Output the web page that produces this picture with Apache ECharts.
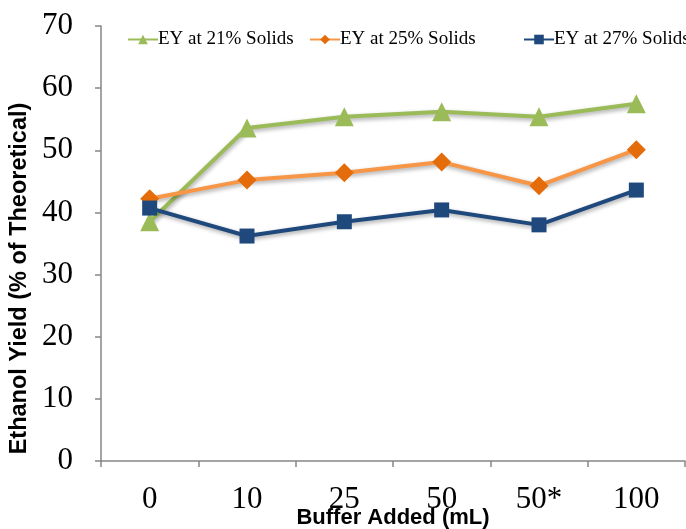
<!DOCTYPE html>
<html><head><meta charset="utf-8">
<script src="https://cdn.jsdelivr.net/npm/echarts@6/dist/echarts.min.js"></script>
<style>html,body{margin:0;padding:0;background:#fff}#c{width:686px;height:529px}</style>
</head><body><div id="c"></div>
<script>
const categories = ['0', '10', '25', '50', '50*', '100'];
const ey21 = [38.5, 53.6, 55.4, 56.2, 55.4, 57.5];
const ey25 = [42.2, 45.2, 46.4, 48.1, 44.3, 50.1];
const ey27 = [40.7, 36.2, 38.5, 40.4, 38.0, 43.6];
const seriesNames = ['EY at 21% Solids', 'EY at 25% Solids', 'EY at 27% Solids'];

const chart = echarts.init(document.getElementById('c'));
const serif = 'Liberation Serif';
const shadow = {shadowColor: 'rgba(0,0,0,0.35)', shadowBlur: 4, shadowOffsetX: 1, shadowOffsetY: 2};
function legend(name, left) {
  return {data: [name], left: left, top: 25, itemWidth: 30, itemHeight: 12, itemGap: 0,
    textStyle: {fontFamily: serif, fontSize: 19, color: '#000', padding: [0,0,0,-5]}};
}
chart.setOption({
  animation: false,
  legend: [legend(seriesNames[0], 122), legend(seriesNames[1], 304), legend(seriesNames[2], 518)],
  grid: {left: 101, right: 1, top: 26, bottom: 68, containLabel: false, outerBoundsMode: 'none'},
  xAxis: {
    type: 'category', data: categories, boundaryGap: true,
    axisLine: {lineStyle: {color: '#868686', width: 1.5}},
    axisTick: {show: true, length: 6, lineStyle: {color: '#868686', width: 1.5}},
    axisLabel: {fontFamily: serif, fontSize: 31, color: '#000', margin: 23},
    name: 'Buffer Added (mL)', nameLocation: 'middle', nameGap: 46, nameMoveOverlap: false,
    nameTextStyle: {fontFamily: 'Liberation Sans', fontWeight: 'bold', fontSize: 22, color: '#000'}
  },
  yAxis: {
    type: 'value', min: 0, max: 70, interval: 10,
    splitLine: {show: false},
    axisLine: {show: true, lineStyle: {color: '#868686', width: 1.5}},
    axisTick: {show: true, length: 6, lineStyle: {color: '#868686', width: 1.5}},
    axisLabel: {fontFamily: serif, fontSize: 31, color: '#000', margin: 28},
    name: 'Ethanol Yield (% of Theoretical)', nameLocation: 'middle', nameGap: 67, nameRotate: 90,
    nameTextStyle: {fontFamily: 'Liberation Sans', fontWeight: 'bold', fontSize: 23.5, color: '#000', padding: [0, 70, 0, 0]}
  },
  series: [
    {name: seriesNames[0], type: 'line', data: ey21, symbol: 'triangle', symbolSize: 19,
     lineStyle: Object.assign({color: '#9BBB59', width: 4}, shadow),
     itemStyle: {color: '#9BBB59'}},
    {name: seriesNames[1], type: 'line', data: ey25, symbol: 'diamond', symbolSize: 19,
     lineStyle: Object.assign({color: '#F79646', width: 4}, shadow),
     itemStyle: {color: '#E46C0A'}},
    {name: seriesNames[2], type: 'line', data: ey27, symbol: 'rect', symbolSize: 15,
     lineStyle: Object.assign({color: '#1F497D', width: 4}, shadow),
     itemStyle: {color: '#1F497D'}}
  ]
});
</script></body></html>
